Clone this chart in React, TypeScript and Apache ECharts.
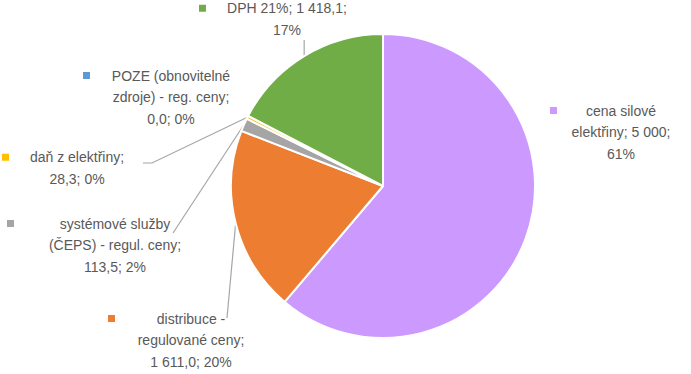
import React, { useEffect, useRef } from 'react';
import * as echarts from 'echarts';

// ---- data ----
const categories = [
  'cena silové elektřiny',
  'distribuce - regulované ceny',
  'systémové služby (ČEPS) - regul. ceny',
  'daň z elektřiny',
  'POZE (obnovitelné zdroje) - reg. ceny',
  'DPH 21%',
];
const values = [5000, 1611.0, 113.5, 28.3, 0.0, 1418.1];
const valueLabels = ['5\u00a0000', '1\u00a0611,0', '113,5', '28,3', '0,0', '1\u00a0418,1'];
const percentLabels = ['61%', '20%', '2%', '0%', '0%', '17%'];
const colors = ['#CC99FF', '#ED7D31', '#A5A5A5', '#FFC000', '#5B9BD5', '#70AD47'];

// ---- layout ----
const FONT_FAMILY = 'Liberation Sans';
const FONT_SIZE = 14;
const LINE_H = 21.5;
const KEY = 7;
const CENTER = [383, 186];
const RADIUS = 152;
const wordsPerLine = [[2, 2, 1], [2, 2, 2], [2, 4, 2], [3, 2], [2, 4, 2], [3, 1]];
const labelPos = [[621, 132], [191, 340], [115, 245], [77, 168], [171, 97], [287, 19]];
const keyOffset = [71, 83, 108, 75, 88, 88];
const leaderBends: (number[][] | null)[] = [
  null,
  [[227, 318]],
  [[173, 233]],
  [[152, 163], [143, 163]],
  null,
  [[-1, 40]],
];

function measure(text: string): number {
  const c = document.createElement('canvas');
  const ctx = c.getContext('2d')!;
  ctx.font = `${FONT_SIZE}px "${FONT_FAMILY}"`;
  return ctx.measureText(text).width;
}

function buildLabel(i: number) {
  const words = `${categories[i]}; ${valueLabels[i]}; ${percentLabels[i]}`.split(' ');
  const lines: string[] = [];
  let k = 0;
  for (const n of wordsPerLine[i]) {
    lines.push(words.slice(k, k + n).join(' ').replace(/\u00a0/g, ' '));
    k += n;
  }
  const tw = measure(lines[0]);
  const g = Math.max(2, keyOffset[i] - KEY - tw / 2);
  const p = g + KEY;
  const first = `{k|}{g|}{t|${lines[0]}}{p|}`;
  const rest = lines.slice(1).map((l) => `{t|${l}}`);
  return {
    text: [first, ...rest].join('\n'),
    rich: {
      k: { width: KEY, height: KEY, backgroundColor: colors[i], verticalAlign: 'middle', lineHeight: LINE_H },
      g: { width: g, lineHeight: LINE_H },
      p: { width: p, lineHeight: LINE_H },
      t: { fontSize: FONT_SIZE, fontFamily: FONT_FAMILY, color: '#595959', lineHeight: LINE_H },
    },
  };
}

export default function App() {
  const ref = useRef<HTMLDivElement>(null);
  useEffect(() => {
    const chart = echarts.init(ref.current!, null, { renderer: 'svg' });
    const data = categories.map((name, i) => {
      const lab = buildLabel(i);
      return {
        name,
        value: values[i],
        itemStyle: { color: colors[i] },
        label: { formatter: lab.text, rich: lab.rich },
        labelLine: { show: !!leaderBends[i] },
      };
    });
    chart.setOption({
      animation: false,
      backgroundColor: '#ffffff',
      series: [
        {
          type: 'pie',
          center: CENTER,
          radius: RADIUS,
          startAngle: 90,
          clockwise: true,
          avoidLabelOverlap: false,
          silent: true,
          itemStyle: { borderColor: '#ffffff', borderWidth: 2 },
          label: {
            show: true,
            position: 'outside',
            fontSize: FONT_SIZE,
            fontFamily: FONT_FAMILY,
            color: '#595959',
            lineHeight: LINE_H,
          },
          labelLine: {
            show: true,
            length: 5,
            length2: 5,
            smooth: false,
            lineStyle: { color: '#A6A6A6', width: 1.2 },
          },
          labelLayout: (params: any) => {
            const i = params.dataIndex;
            const [x, y] = labelPos[i];
            const res: any = { x, y, align: 'center', verticalAlign: 'middle' };
            const bends = leaderBends[i];
            if (bends && params.labelLinePoints && params.labelLinePoints.length) {
              const p0 = params.labelLinePoints[0];
              res.labelLinePoints = [
                [p0[0], p0[1]],
                ...bends.map((b) => [b[0] < 0 ? p0[0] : b[0], b[1]]),
              ];
            }
            return res;
          },
          data,
        },
      ],
    });
    return () => chart.dispose();
  }, []);
  return (
    <div
      ref={ref}
      style={{ position: 'absolute', left: 0, top: 0, width: 691, height: 374 }}
    />
  );
}
